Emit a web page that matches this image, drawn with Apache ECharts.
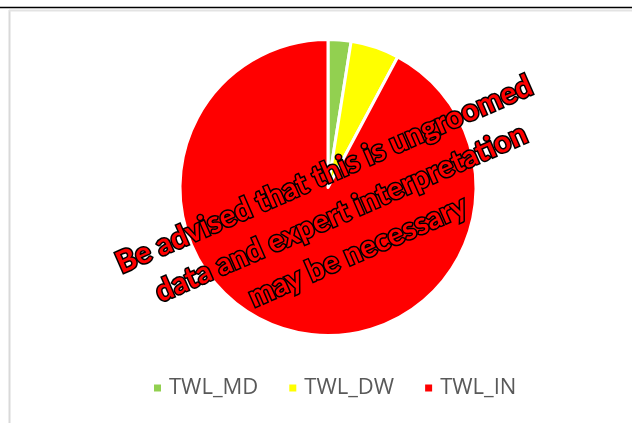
<!DOCTYPE html>
<html>
<head>
<meta charset="utf-8">
<script src="https://cdn.jsdelivr.net/npm/echarts@6/dist/echarts.min.js"></script>
<style>
html,body{margin:0;padding:0;background:#fff;}
#chart{width:632px;height:423px;}
</style>
</head>
<body>
<div id="chart"></div>
<script>
const categories = ['TWL_MD', 'TWL_DW', 'TWL_IN'];
const values = [2.5, 5.3, 92.2];
const colors = ['#92d050', '#ffff00', '#ff0000'];
const watermark = 'Be advised that this is ungroomed\ndata and expert interpretation\nmay be necessary';

const chart = echarts.init(document.getElementById('chart'), null, {renderer: 'canvas'});
chart.setOption({
  animation: false,
  backgroundColor: '#ffffff',
  legend: {
    data: categories,
    bottom: 24,
    left: 152,
    padding: 0,
    itemWidth: 9,
    itemHeight: 9,
    itemGap: 29,
    icon: 'rect',
    textStyle: {color: '#595959', fontSize: 22, fontFamily: 'Open Sans', padding: [0, 0, 0, 2]}
  },
  series: [{
    type: 'pie',
    center: [328, 187.5],
    radius: [0, 148],
    startAngle: 90,
    clockwise: true,
    label: {show: false},
    labelLine: {show: false},
    itemStyle: {borderColor: '#ffffff', borderWidth: 3},
    emphasis: {disabled: true},
    data: categories.map((c, i) => ({name: c, value: values[i], itemStyle: {color: colors[i]}}))
  }],
  graphic: [
    {type: 'line', shape: {x1: 0, y1: 7.5, x2: 632, y2: 7.5}, style: {stroke: '#000', lineWidth: 1.5}, z: 10},
    {type: 'line', shape: {x1: 9.5, y1: 10, x2: 9.5, y2: 423}, style: {stroke: '#d9d9d9', lineWidth: 2}, z: 10},
    {type: 'line', shape: {x1: 9, y1: 10.5, x2: 632, y2: 10.5}, style: {stroke: '#e3e3e3', lineWidth: 2}, z: 10},
    {
      type: 'text',
      x: 341, y: 213,
      rotation: 23.6 * Math.PI / 180,
      z: 100,
      style: {
        text: watermark,
        x: 0, y: 0,
        align: 'center',
        verticalAlign: 'middle',
        font: 'bold 30px Lato',
        lineHeight: 42,
        fill: '#ff0000',
        stroke: '#000000',
        lineWidth: 3
      }
    }
  ]
});
</script>
</body>
</html>
